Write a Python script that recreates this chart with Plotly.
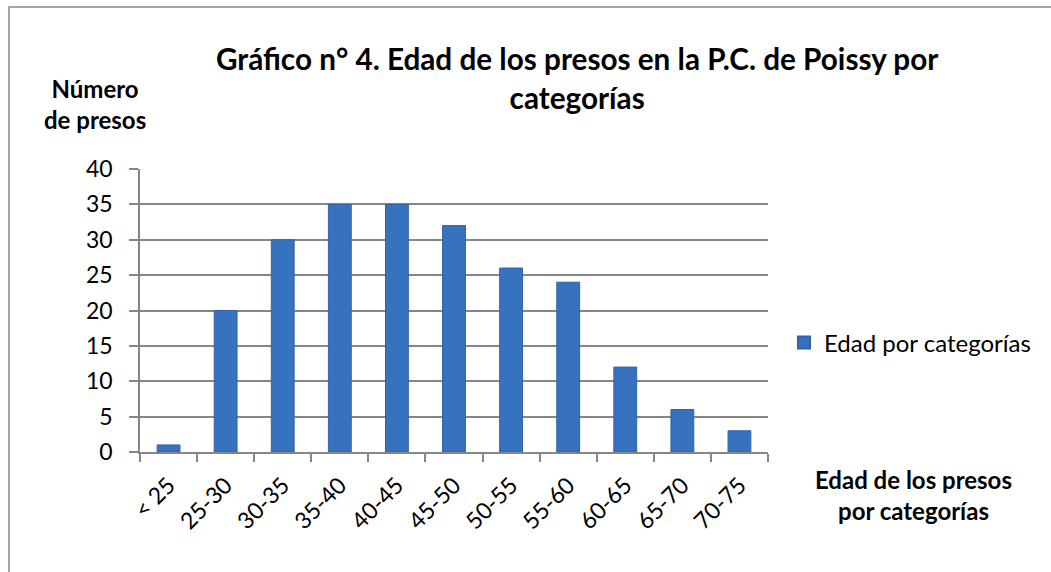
import plotly.graph_objects as go

categories = ["< 25", "25-30", "30-35", "35-40", "40-45", "45-50", "50-55", "55-60", "60-65", "65-70", "70-75"]
values = [1, 20, 30, 35, 35, 32, 26, 24, 12, 6, 3]
y_ticks = [0, 5, 10, 15, 20, 25, 30, 35, 40]
series_name = "Edad por categorías"

FONT = "Lato, 'Open Sans', sans-serif"
L, R, T, B = 140, 283, 169, 120
W, H = 1051, 572
pw, ph = W - L - R, H - T - B

def px(x):
    return (x - L) / pw

def py(y):
    return (H - B - y) / ph

fig = go.Figure()
fig.add_trace(go.Bar(
    x=categories, y=values, name=series_name,
    marker=dict(color="#3672BE", line=dict(color="#2F63A8", width=1)),
    width=0.4, showlegend=True,
))

fig.update_layout(
    width=W, height=H,
    margin=dict(l=L, r=R, t=T, b=B, autoexpand=False),
    paper_bgcolor="white", plot_bgcolor="white",
    font=dict(family=FONT, color="black"),
    showlegend=True,
    legend=dict(x=px(784), y=py(343), xref="paper", yref="paper", xanchor="left", yanchor="middle",
                font=dict(size=24, family=FONT), bgcolor="rgba(0,0,0,0)",
                itemsizing="constant", itemwidth=30),
    bargap=0.6,
)

fig.update_xaxes(
    showline=True, linecolor="#868686", linewidth=1.5,
    ticks="outside", ticklen=8, tickcolor="#868686", tickwidth=1.5,
    tickson="boundaries", tickangle=-45, ticklabelstandoff=9,
    tickfont=dict(size=23, family=FONT),
    showgrid=False, range=[-0.5, 10.5],
)
fig.update_yaxes(
    range=[0, 40], tickvals=y_ticks,
    showline=True, linecolor="#868686", linewidth=1.5,
    ticks="outside", ticklen=9, tickcolor="#868686", tickwidth=1.5,
    ticklabelstandoff=12,
    tickfont=dict(size=23, family=FONT),
    showgrid=True, gridcolor="#868686", gridwidth=1.5,
    zeroline=False,
)

fig.add_annotation(text="<b>Gráfico n° 4. Edad de los presos en la P.C. de Poissy por<br>categorías</b>",
                   xref="paper", yref="paper", x=px(577), y=py(78), xanchor="center", yanchor="middle",
                   showarrow=False, font=dict(size=29.7, family=FONT), align="center")
fig.add_annotation(text="<b>Número<br>de presos</b>", xref="paper", yref="paper",
                   x=px(95), y=py(104), xanchor="center", yanchor="middle",
                   showarrow=False, font=dict(size=24, family=FONT), align="center")
fig.add_annotation(text="<b>Edad de los presos<br>por categorías</b>", xref="paper", yref="paper",
                   x=px(913), y=py(495), xanchor="center", yanchor="middle",
                   showarrow=False, font=dict(size=24, family=FONT), align="center")

fig.add_shape(type="rect", xref="paper", yref="paper",
              x0=px(9), x1=px(1060), y0=py(580), y1=py(7),
              line=dict(color="#868686", width=1.5), fillcolor="rgba(0,0,0,0)", layer="below")

fig.write_html("out.html", config={"displayModeBar": False},
               post_script="document.body.style.margin='0';")
